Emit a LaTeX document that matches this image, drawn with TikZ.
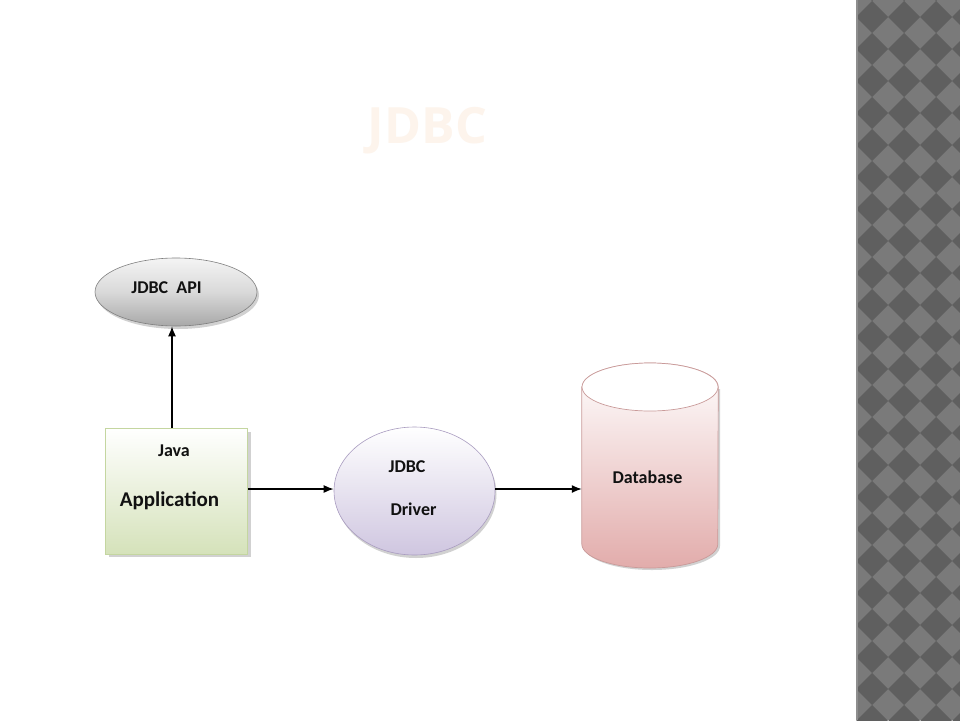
\documentclass[tikz,border=0pt]{standalone}
\usepackage{fontspec}
\setmainfont{Carlito}
\newfontfamily\titlefont{Open Sans}
\usetikzlibrary{arrows.meta,shapes.geometric}
\definecolor{titlecol}{HTML}{FDF4EC}
\definecolor{stripdark}{HTML}{5F5F5F}
\definecolor{striplight}{HTML}{7A7A7A}
\definecolor{stripedge}{HTML}{8E8E8E}
\definecolor{apitop}{HTML}{F4F4F4}
\definecolor{apimid}{HTML}{D9D9D9}
\definecolor{apibot}{HTML}{A8A8A8}
\definecolor{apiline}{HTML}{7F7F7F}
\definecolor{apptop}{HTML}{FFFFFF}
\definecolor{appbot}{HTML}{D5E2BA}
\definecolor{appline}{HTML}{C4D6A0}
\definecolor{drvbot}{HTML}{CFC6E0}
\definecolor{drvline}{HTML}{A99CC0}
\definecolor{dbbot}{HTML}{E2ACAB}
\definecolor{dbline}{HTML}{C99A99}
\definecolor{shadowcol}{HTML}{9A9A9A}
\definecolor{textcol}{HTML}{111111}
\begin{document}
\begin{tikzpicture}[x=1pt,y=-1pt,
  arr/.style={line width=1.4pt, draw=black, -{Latex[length=10pt,width=8pt]}},
  lbl/.style={anchor=base, inner sep=0pt, text=textcol, font=\bfseries\fontsize{18}{20}\selectfont},
  shadowfill/.style={fill=shadowcol, opacity=0.45},
  apishape/.style={ellipse, minimum width=162pt, minimum height=68pt, inner sep=0pt,
    draw=apiline, line width=0.6pt, top color=apitop, bottom color=apibot, middle color=apimid},
  appshape/.style={rectangle, minimum width=142pt, minimum height=126pt, inner sep=0pt,
    draw=appline, line width=0.8pt, top color=apptop, bottom color=appbot},
  drvshape/.style={ellipse, minimum width=161pt, minimum height=128pt, inner sep=0pt,
    draw=drvline, line width=0.6pt, top color=white, bottom color=drvbot},
  dbshape/.style={rectangle, minimum width=136pt, minimum height=205pt, inner sep=0pt}
]
\useasboundingbox (0,0) rectangle (960,720);
\fill[white] (0,0) rectangle (960,720);

% right decorative strip
\begin{scope}
  \clip (856,0) rectangle (960,720);
  \fill[striplight] (856,0) rectangle (960,720);
  \foreach \i in {-1,...,3}{
    \foreach \j in {-1,...,23}{
      \fill[stripdark] ({872+32*\i-16},{17+32*\j}) -- ({872+32*\i},{17+32*\j-16})
        -- ({872+32*\i+16},{17+32*\j}) -- ({872+32*\i},{17+32*\j+16}) -- cycle;
    }
  }
\end{scope}
\draw[stripedge, line width=1.5pt] (856.75,0) -- (856.75,720);

% title
\node[anchor=base, inner sep=0pt, text=titlecol, font=\titlefont\bfseries\fontsize{50}{56}\selectfont] (title) at (427.5,143) {JDBC};

% shadows
\fill[shadowfill] (178,295) ellipse [x radius=81, y radius=34];
\fill[shadowfill] (109,432) rectangle (251,557);
\fill[shadowfill] (416,494) ellipse [x radius=80.5, y radius=64];
\fill[shadowfill] (584,389) -- (584,546) arc[start angle=180, end angle=0, x radius=68, y radius=24] -- (720,389) -- cycle;

% shapes
\node[apishape] (api) at (176,292) {};
\node[appshape] (app) at (176.5,491) {};
\node[drvshape] (drv) at (414.5,491) {};
\node[dbshape] (db) at (650,465.5) {};

% database cylinder
\path[draw=dbline, line width=0.7pt, top color=white, bottom color=dbbot]
  (db.west |- 0,387) -- (db.west |- 0,544)
  arc[start angle=180, end angle=0, x radius=68, y radius=24]
  -- (db.east |- 0,387)
  arc[start angle=360, end angle=180, x radius=68, y radius=24] -- cycle;
\draw[dbline, line width=0.7pt, fill=white] (650,387) ellipse [x radius=68, y radius=24];

% labels
\node[lbl] (apitext) at (166.5,293) {JDBC\ \ API};
\node[lbl] (javatext) at (174,456) {Java};
\node[lbl, font=\bfseries\fontsize{21}{24}\selectfont] (apptext) at (169.5,506) {Application};
\node[lbl] (drvtext1) at (407,472) {JDBC};
\node[lbl] (drvtext2) at (413.5,515) {Driver};
\node[lbl] (dbtext) at (647.5,483) {Database};

% connectors
\draw[arr] ([xshift=-4.5pt]app.north) -- ([xshift=-4.5pt]app.north |- api.south);
\draw[arr] ([yshift=2pt]app.east) -- ([yshift=2pt]app.east -| drv.west);
\draw[arr] ([yshift=2pt]drv.east) -- ([yshift=2pt]drv.east -| db.west);
\end{tikzpicture}
\end{document}
